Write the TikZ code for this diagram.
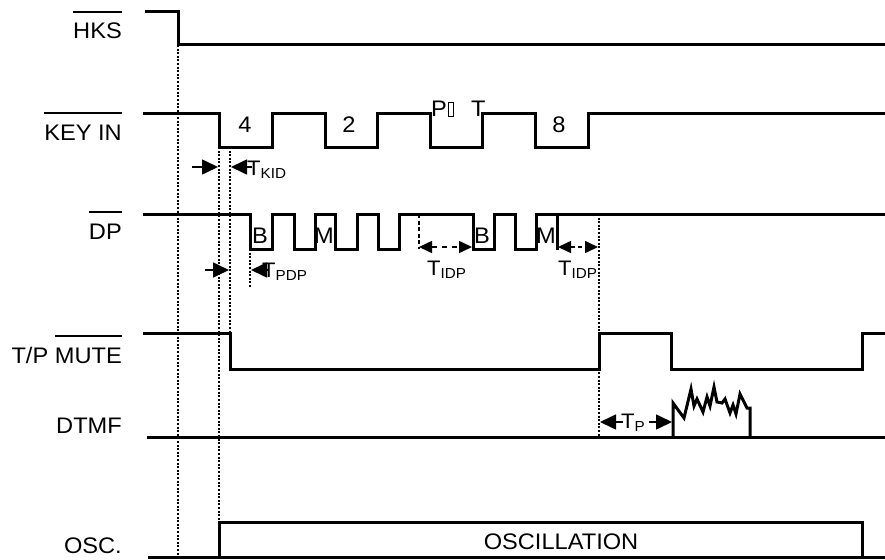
\documentclass[tikz,border=0pt]{standalone}
\usepackage{fontspec}
\setmainfont{Liberation Sans}[FakeStretch=1.05]
\usetikzlibrary{arrows.meta}
\newcommand\myovl[1]{\setbox0\hbox{#1}\rlap{\rule[26pt]{\wd0}{1.6pt}}\box0}
\newcommand\tsub[1]{{\fontsize{21}{23}\selectfont T}\raisebox{-3.5pt}{\fontsize{14.5}{16}\selectfont #1}}
\begin{document}
\begin{tikzpicture}[x=1pt,y=-1pt,
  wave/.style={line width=3pt,line join=miter,line cap=butt},
  guide/.style={line width=1.4pt,dash pattern=on 2pt off 1.6pt},
  sig/.style={inner sep=0pt,font=\fontsize{22.5}{25}\selectfont},
  tl/.style={inner sep=0pt,anchor=base west},
  arr/.style={line width=1.6pt,-{Triangle[length=16pt,width=15pt]}},
  arrs/.style={line width=1.6pt,{Triangle[length=13pt,width=12pt]}-{Triangle[length=13pt,width=12pt]}}
]
\useasboundingbox (0,0) rectangle (885,559);
\fill[white] (0,0) rectangle (885,559);

% signal names
\node[sig,anchor=base east] (hks) at (122,39) {\myovl{HKS}};
\node[sig,anchor=base east] (key) at (122,140) {\myovl{KEY IN}};
\node[sig,anchor=base east] (dp) at (122,239) {\myovl{DP}};
\node[sig,anchor=base east] (mute) at (122,363) {T/P \myovl{MUTE}};
\node[sig,anchor=base east] (dtmf) at (122,433) {DTMF};
\node[sig,anchor=base east] (osc) at (122,553) {OSC.};

% guide lines
\draw[guide] (178,45) -- (178,557);
\draw[guide] (219,147) -- (219,522);
\draw[guide] (230,147) -- (230,333);
\draw[guide] (250,249) -- (250,287);
\draw[guide] (599,214) -- (599,437);
\draw[line width=2.2pt,dash pattern=on 4pt off 2.5pt] (419,214) -- (419,249);

% HKS
\draw[wave] (145,12) -- (178,12) -- (178,45) -- (885,45);
% KEY IN
\draw[wave] (143,114) -- (219,114) -- (219,147) -- (272,147) -- (272,114)
  -- (325,114) -- (325,147) -- (377,147) -- (377,114) -- (430,114)
  -- (430,147) -- (482,147) -- (482,114) -- (535,114) -- (535,147)
  -- (588,147) -- (588,114) -- (885,114);
% DP
\draw[wave] (143,214) -- (250,214) -- (250,249) -- (272,249) -- (272,214)
  -- (294,214) -- (294,249) -- (315,249) -- (315,214) -- (335,214)
  -- (335,249) -- (357,249) -- (357,214) -- (378,214) -- (378,249)
  -- (399,249) -- (399,214) -- (473,214) -- (473,249) -- (494,249)
  -- (494,214) -- (515,214) -- (515,249) -- (536,249) -- (536,214)
  -- (885,214);
\draw[wave] (557,214) -- (557,250);
% T/P MUTE
\draw[wave] (143,333) -- (230,333) -- (230,369) -- (599,369) -- (599,333)
  -- (671,333) -- (671,369) -- (862,369) -- (862,333) -- (885,333);
% DTMF
\draw[wave] (147,437) -- (885,437);
\draw[wave] (673,437) -- (673,403) -- (684,418) -- (691,389) -- (694,406)
  -- (697,399) -- (703,412) -- (707,397) -- (710,406) -- (714,387)
  -- (717,402) -- (722,403) -- (725,399) -- (730,413) -- (733,405)
  -- (736,414) -- (740,394) -- (747,408) -- (750,408) -- (750,437);
% OSC
\draw[wave] (148,557) -- (885,557);
\draw[wave] (219,557) -- (219,522) -- (862,522) -- (862,557);
\node[sig,anchor=base] (oscl) at (561,549) {OSCILLATION};

% key labels
\node[sig,anchor=base] (k4) at (245,132) {4};
\node[sig,anchor=base] (k2) at (349,132) {2};
\node[sig,anchor=base west] (kp) at (431,117) {P};
\draw[line width=1pt] (448.5,103) rectangle (453,117);
\node[sig,anchor=base west] (kt) at (471,117) {T};
\node[sig,anchor=base] (k8) at (559,132) {8};
\node[sig,anchor=base west] (b1) at (252,243) {B};
\node[sig,anchor=base west] (m1) at (314,243) {M};
\node[sig,anchor=base west] (b2) at (474,243) {B};
\node[sig,anchor=base west] (m2) at (536,243) {M};

% timing arrows
\draw[arr] (192,167) -- (218,167);
\draw[arr] (252,167) -- (231,167);
\node[tl] (tkid) at (247,175) {\tsub{KID}};
\draw[arr] (205,270) -- (229,270);
\draw[arr] (268,270) -- (251,270);
\node[tl] (tpdp) at (262,277) {\tsub{PDP}};
\draw[arrs,dash pattern=on 5pt off 5pt] (419,247) -- (472,247);
\node[tl] (tidp1) at (427,275) {\tsub{IDP}};
\draw[arrs,dash pattern=on 4pt off 3pt] (558,247) -- (598,247);
\node[tl] (tidp2) at (558,275) {\tsub{IDP}};
\draw[arr] (623,422) -- (600,422);
\draw[arr] (649,422) -- (672,422);
\node[tl] (tp) at (621,428) {\tsub{P}};
\end{tikzpicture}
\end{document}
